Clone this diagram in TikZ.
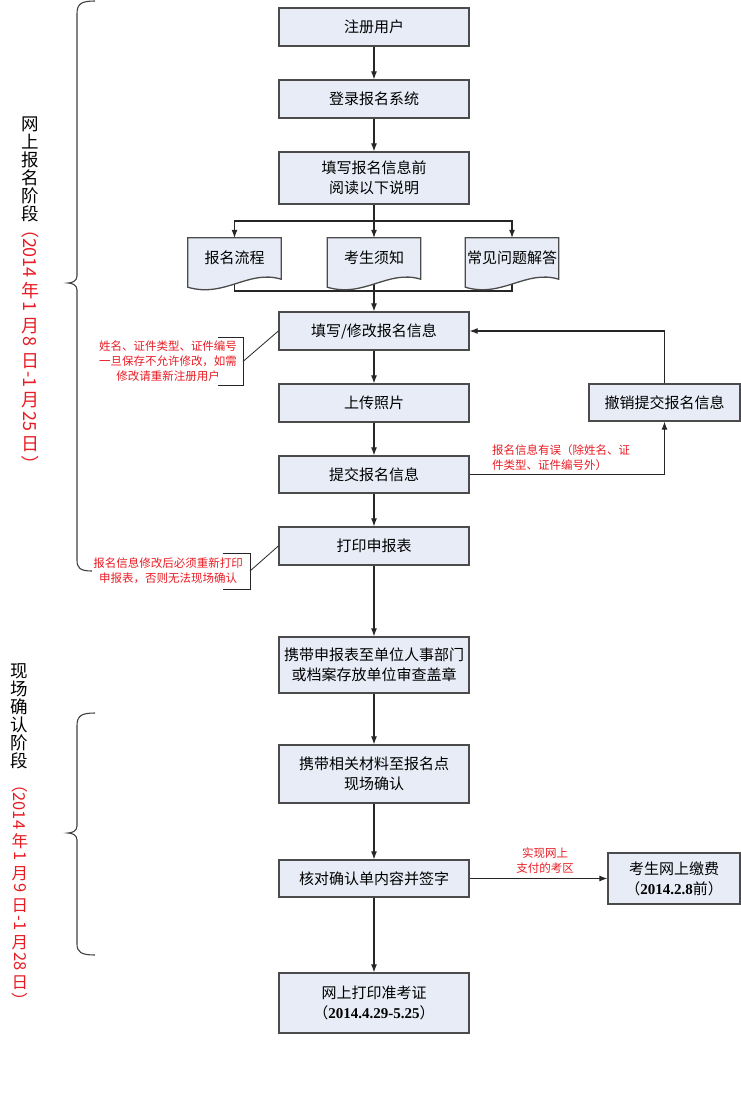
\documentclass[tikz,border=0pt]{standalone}
\usepackage{fontspec}
\setmainfont{Noto Sans CJK SC}
\newfontfamily\tnr{Liberation Serif}
\usetikzlibrary{arrows.meta,backgrounds,calc}
\definecolor{boxfill}{RGB}{231,236,246}
\definecolor{boxline}{RGB}{75,75,75}
\definecolor{redtxt}{RGB}{232,28,36}
\newcommand\vr[1]{\hbox to 24pt{\hss\rotatebox[origin=c]{-90}{#1}\hss}\kern2pt}
\newcommand\vu[1]{\hbox to 24pt{\hss\vbox to 1.2em{\vss\hbox{#1}\vss}\hss}}
\tikzset{
  stepbox/.style={draw=boxline, line width=1.3pt, fill=boxfill, minimum width=190pt,
    inner sep=0pt, align=center, font=\fontsize{15}{20}\selectfont},
  docnode/.style={minimum width=93pt, minimum height=40pt, inner sep=0pt,
    font=\fontsize{15}{20}\selectfont},
  docdraw/.style={draw=boxline, line width=1.3pt, fill=boxfill},
  conn/.style={line width=1.1pt, draw=black!85},
  arr/.style={conn, -{Latex[length=8pt,width=6pt]}},
  thinline/.style={line width=0.8pt, draw=black!85},
  note/.style={text=redtxt, font=\fontsize{11.5}{15}\selectfont, inner sep=0pt},
  brace/.style={line width=1.1pt, draw=black!75},
  vblack/.style={align=center, inner sep=0pt, font=\fontsize{17.5}{18}\selectfont},
  vred/.style={inner sep=0pt, text=redtxt},
}
\newcommand\docshape[1]{%
  \draw[docdraw] (#1.north west) -- (#1.north east) -- ($(#1.south east)+(0,1)$)
    .. controls ($(#1.south east)+(-33,-9)$) and ($(#1.south west)+(37,20)$) ..
    ($(#1.south west)+(0,9)$) -- cycle;
  \node[docnode] at (#1) {\csname doctext#1\endcsname};}
\begin{document}
\begin{tikzpicture}[x=1pt,y=-1pt]
\useasboundingbox (0,0) rectangle (741,1109);

% main boxes
\node[stepbox, minimum height=38pt] (b1) at (374,27) {注册用户};
\node[stepbox, minimum height=38pt] (b2) at (374,99) {登录报名系统};
\node[stepbox, minimum height=52pt] (b3) at (374,178) {填写报名信息前\\阅读以下说明};
\node[stepbox, minimum height=38pt] (b4) at (374,331) {填写/修改报名信息};
\node[stepbox, minimum height=38pt] (b5) at (374,403) {上传照片};
\node[stepbox, minimum height=37pt] (b6) at (374,474.5) {提交报名信息};
\node[stepbox, minimum height=38pt] (b7) at (374,546) {打印申报表};
\node[stepbox, minimum height=56pt] (b8) at (374,665) {携带申报表至单位人事部门\\或档案存放单位审查盖章};
\node[stepbox, minimum height=58pt] (b9) at (374,774) {携带相关材料至报名点\\现场确认};
\node[stepbox, minimum height=37pt] (b10) at (374,878.5) {核对确认单内容并签字};
\node[stepbox, minimum height=60pt] (b11) at (374,1003) {网上打印准考证\\（{\tnr\bfseries 2014.4.29-5.25}）};
\node[stepbox, minimum height=37pt, minimum width=151pt] (cancel) at (664.5,402.5) {撤销提交报名信息};
\node[stepbox, minimum height=51pt, minimum width=132pt] (pay) at (674,878.5) {考生网上缴费\\（{\tnr\bfseries 2014.2.8}前）};

% document nodes (positions only)
\node[docnode] (d1) at (234.5,258) {};
\node[docnode] (d2) at (374,258) {};
\node[docnode] (d3) at (512,258) {};
\coordinate (split) at (374,221);
\coordinate (merge) at (374,291);

\begin{scope}[on background layer]
  \draw[conn] (b3.south) -- (split);
  \draw[arr] (split) -| (d1.north);
  \draw[arr] (split) -| (d3.north);
  \draw[arr] (split) -- (d2.north);
  \draw[conn] (d1.south) |- (merge);
  \draw[conn] (d3.south) |- (merge);
  \draw[arr] (d2.south) -- (b4.north);
\end{scope}

\expandafter\def\csname doctextd1\endcsname{报名流程}
\expandafter\def\csname doctextd2\endcsname{考生须知}
\expandafter\def\csname doctextd3\endcsname{常见问题解答}
\docshape{d1}
\docshape{d2}
\docshape{d3}

% vertical flow
\draw[arr] (b1) -- (b2);
\draw[arr] (b2) -- (b3);
\draw[arr] (b4) -- (b5);
\draw[arr] (b5) -- (b6);
\draw[arr] (b6) -- (b7);
\draw[arr] (b7) -- (b8);
\draw[arr] (b8) -- (b9);
\draw[arr] (b9) -- (b10);
\draw[arr] (b10) -- (b11);

% loop back
\draw[arr] (b6.east) -| (cancel.south);
\draw[arr] (cancel.north) |- (b4.east);
\node[note, anchor=north west, align=left] (err) at (492,444) {报名信息有误（除姓名、证\\件类型、证件编号外）};

% payment
\draw[arr] (b10.east) -- (pay.west);
\node[note, align=center] (zone) at (545,860.5) {实现网上\\支付的考区};

% callout 1
\node[note, align=center] (n1) at (168,361) {姓名、证件类型、证件编号\\一旦保存不允许修改，如需\\修改请重新注册用户};
\coordinate (c1) at (243,361.5);
\draw[thinline] (218,337) -- (243,337) -- (243,385) -- (218,385);
\draw[thinline] (c1) -- (b4.west);

% callout 2
\node[note, align=center] (n2) at (168,570.5) {报名信息修改后必须重新打印\\申报表，否则无法现场确认};
\coordinate (c2) at (250,571);
\draw[thinline] (223,553) -- (250,553) -- (250,589) -- (223,589);
\draw[thinline] (c2) -- (b7.west);

% braces
\draw[brace] (95,1) .. controls (81,1) and (77,4) .. (77,14) -- (77,276)
  .. controls (77,281) and (72,283) .. (68,283)
  .. controls (72,283) and (77,285) .. (77,290) -- (77,560)
  .. controls (77,568) and (80,571) .. (92,571);
\draw[brace] (95,713) .. controls (81,713) and (77,716) .. (77,726) -- (77,826)
  .. controls (77,831) and (72,833) .. (68,833)
  .. controls (72,833) and (77,835) .. (77,840) -- (77,944)
  .. controls (77,952) and (81,955) .. (95,955);

% stage labels
\node[vblack] (s1) at (30,169) {网\\上\\报\\名\\阶\\段};
\node[vred, font=\fontsize{18}{18}\selectfont] (s1d) at (30,347.5) {\vbox{\offinterlineskip
  \vr{（2014}\vu{年}\vr{1}\vu{月}\vr{8}\vu{日}\vr{-1}\vu{月}\vr{25}\vu{日}\vr{）}}};
\node[vblack] (s2) at (19,716) {现\\场\\确\\认\\阶\\段};
\node[vred, font=\fontsize{16.5}{16.5}\selectfont] (s2d) at (20,893.5) {\vbox{\offinterlineskip
  \vr{（2014}\vu{年}\vr{1}\vu{月}\vr{9}\vu{日}\vr{-1}\vu{月}\vr{28}\vu{日}\vr{）}}};
\end{tikzpicture}
\end{document}
